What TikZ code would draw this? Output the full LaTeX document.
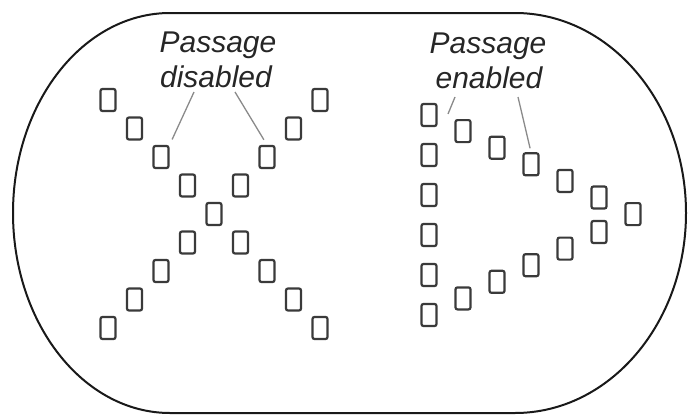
\documentclass[tikz,border=0pt]{standalone}
\usepackage{fontspec}
\setmainfont{Liberation Sans}
\usepackage{tikz}
\usetikzlibrary{positioning}

\definecolor{pixgray}{HTML}{3A3A3A}
\definecolor{leadgray}{HTML}{8A8A8A}

\begin{document}
\begin{tikzpicture}[
    x=1pt, y=-1pt,
    pixel/.style={rectangle, draw=pixgray, line width=2.2pt, rounded corners=2pt, inner sep=0pt, minimum width=15pt, minimum height=22pt},
    caption/.style={font=\fontsize{30}{34}\selectfont\itshape, text=black!85, inner sep=0pt, anchor=base},
    leader/.style={draw=leadgray, line width=1.3pt},
    outline/.style={draw=black!90, line width=2pt}
]
\useasboundingbox (0,0) rectangle (688,415);
% Outer stadium outline
\draw[outline] (170,13) -- (515,13)
    arc[start angle=-90, end angle=90, x radius=171, y radius=200]
    -- (170,413)
    arc[start angle=90, end angle=270, x radius=157, y radius=200] -- cycle;
% Captions
\node[caption] (dis1) at (218,52) {Passage};
\node[caption] (dis2) at (216,87) {disabled};
\node[caption] (ena1) at (488,53) {Passage};
\node[caption] (ena2) at (489,88) {enabled};
% X pattern (passage disabled)
\foreach \i in {0,...,8}
    \node[pixel] (xa\i) at ({108+26.5*\i}, {100+28.5*\i}) {};
\foreach \i in {0,1,2,3,5,6,7,8}
    \node[pixel] (xb\i) at ({320-26.5*\i}, {100+28.5*\i}) {};
% D pattern (passage enabled)
\foreach \k in {0,...,5}
    \node[pixel] (dcol\k) at (429, {115+40*\k}) {};
\foreach \i in {1,...,6}
    \node[pixel] (dup\i) at ({429+34*\i}, {114.5+16.6*\i}) {};
\foreach \i in {1,...,5}
    \node[pixel] (dlow\i) at ({429+34*\i}, {315-16.6*\i}) {};
% Leader lines
\coordinate (disL) at (194,92);
\coordinate (disR) at (235,92);
\coordinate (enaL) at (455,97);
\coordinate (enaLend) at (448,114);
\coordinate (enaR) at (518,97);
\draw[leader, shorten >=6pt] (disL) -- (xa2.north east);
\draw[leader, shorten >=6pt] (disR) -- (xb2.north);
\draw[leader] (enaL) -- (enaLend);
\draw[leader, shorten >=4pt] (enaR) -- (dup3.north);
\end{tikzpicture}
\end{document}
